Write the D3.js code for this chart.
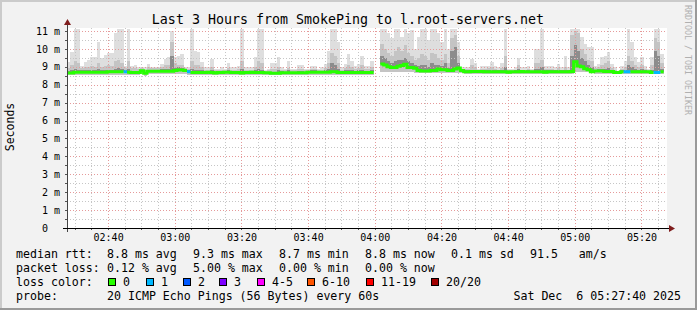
<!DOCTYPE html>
<html>
<head>
<meta charset="utf-8">
<script src="https://cdn.jsdelivr.net/npm/d3@7"></script>
<style>
  body { margin: 0; background: #f2f2f2; }
  svg { display: block; font-family: "DejaVu Sans Mono", monospace; }
  text { white-space: pre; }
</style>
</head>
<body>
<div id="chart"></div>
<script>
// one value per 60s step, starting 02:27:40, in ms (null = no data)
const median = [
  8.66, 8.66, 8.70, 8.70, 8.70, 8.70, 8.70, 8.70, 8.70, 8.70,
  8.70, 8.70, 8.72, 8.72, 8.72, 8.72, 8.72, 8.72, 8.70, 8.68,
  8.68, 8.68, 8.78, 8.64, 8.76, 8.76, 8.76, 8.76, 8.76, 8.76,
  8.76, 8.76, 8.80, 8.82, 8.82, 8.80, 8.72, 8.68, 8.68, 8.68,
  8.68, 8.68, 8.70, 8.68, 8.66, 8.68, 8.68, 8.70, 8.70, 8.68,
  8.68, 8.68, 8.66, 8.68, 8.68, 8.70, 8.68, 8.68, 8.68, 8.67,
  8.67, 8.64, 8.64, 8.64, 8.67, 8.67, 8.67, 8.67, 8.67, 8.67,
  8.67, 8.67, 8.70, 8.70, 8.70, 8.70, 8.70, 8.70, 8.70, 8.73,
  8.73, 8.68, 8.68, 8.68, 8.68, 8.68, 8.68, 8.68, 8.69, 8.69,
  8.69, 8.69, null, null, 9.16, 9.10, 9.01, 8.97, 8.97, 9.03,
  9.07, 9.14, 8.97, 8.97, 8.92, 8.79, 8.77, 8.77, 8.77, 8.79,
  8.79, 8.88, 8.84, 8.84, 8.79, 8.79, 8.88, 8.93, 8.79, 8.72,
  8.72, 8.74, 8.74, 8.74, 8.74, 8.72, 8.72, 8.72, 8.72, 8.72,
  8.72, 8.72, 8.70, 8.72, 8.72, 8.72, 8.74, 8.72, 8.72, 8.72,
  8.72, 8.72, 8.72, 8.70, 8.72, 8.72, 8.72, 8.72, 8.72, 8.72,
  8.72, 8.74, 9.29, 9.05, 9.00, 8.90, 8.84, 8.72, 8.77, 8.77,
  8.77, 8.74, 8.74, 8.74, 8.69, 8.69, 8.72, 8.72, 8.72, 8.72,
  8.72, 8.72, 8.72, 8.72, 8.72, 8.69, 8.69, 8.69, 8.72
];

// fastest ping of each step
const rttMin = [
  8.56, 8.56, 8.56, 8.56, 8.56, 8.56, 8.56, 8.56, 8.56, 8.56,
  8.56, 8.56, 8.56, 8.56, 8.56, 8.56, 8.56, 8.56, 8.56, 8.55,
  8.55, 8.55, 8.60, 8.50, 8.62, 8.62, 8.62, 8.62, 8.62, 8.62,
  8.62, 8.62, 8.62, 8.62, 8.62, 8.62, 8.57, 8.57, 8.57, 8.57,
  8.57, 8.57, 8.57, 8.57, 8.57, 8.57, 8.57, 8.57, 8.57, 8.57,
  8.57, 8.57, 8.57, 8.57, 8.57, 8.57, 8.57, 8.57, 8.57, 8.57,
  8.57, 8.55, 8.55, 8.55, 8.55, 8.55, 8.55, 8.55, 8.55, 8.55,
  8.55, 8.55, 8.55, 8.55, 8.55, 8.55, 8.55, 8.55, 8.55, 8.55,
  8.55, 8.55, 8.55, 8.55, 8.55, 8.55, 8.55, 8.55, 8.55, 8.55,
  8.55, 8.55, null, null, 8.72, 8.72, 8.72, 8.72, 8.72, 8.72,
  8.72, 8.72, 8.72, 8.72, 8.66, 8.66, 8.66, 8.66, 8.66, 8.66,
  8.66, 8.66, 8.66, 8.66, 8.66, 8.66, 8.66, 8.66, 8.66, 8.60,
  8.60, 8.60, 8.60, 8.60, 8.60, 8.60, 8.60, 8.60, 8.60, 8.60,
  8.60, 8.60, 8.60, 8.60, 8.60, 8.60, 8.60, 8.60, 8.60, 8.60,
  8.60, 8.60, 8.60, 8.60, 8.60, 8.60, 8.60, 8.60, 8.60, 8.60,
  8.60, 8.60, 8.70, 8.70, 8.70, 8.70, 8.70, 8.70, 8.60, 8.60,
  8.60, 8.60, 8.60, 8.60, 8.60, 8.60, 8.60, 8.60, 8.60, 8.60,
  8.60, 8.60, 8.60, 8.60, 8.60, 8.60, 8.60, 8.60, 8.60
];

// slowest ping of each step (outer smoke)
const rttMax = [
  9.25, 9.85, 11.1, 11.1, 9.07, 9.25, 9.37, 9.53, 9.55, 10.4,
  9.5, 9.65, 9.8, 9.8, 10.9, 11.1, 11.1, 9.07, 11.1, 9.07,
  9.12, 9.0, 9.0, 8.97, 9.16, 8.97, 8.97, 9.0, 9.16, 9.44,
  9.53, 11.0, 9.53, 9.63, 9.7, 8.97, 8.97, 11.1, 9.9, 9.81,
  9.25, 8.97, 8.97, 9.44, 8.88, 8.88, 8.97, 8.88, 9.2, 8.97,
  8.97, 9.07, 11.1, 8.97, 8.97, 9.0, 9.53, 11.1, 11.1, 8.82,
  8.88, 9.2, 9.2, 9.53, 8.97, 8.88, 9.3, 8.88, 8.88, 9.12,
  9.12, 8.88, 8.88, 9.07, 9.07, 8.88, 9.0, 9.16, 9.9, 11.1,
  11.1, 10.37, 8.97, 9.16, 9.72, 9.35, 9.07, 9.16, 9.63, 9.07,
  9.07, 9.35, null, null, 11.1, 11.1, 10.9, 10.6, 11.1, 11.1,
  10.65, 11.1, 10.9, 11.05, 10.0, 10.65, 11.1, 11.1, 10.5, 11.1,
  11.1, 10.87, 10.4, 11.1, 10.0, 11.1, 11.1, 10.4, 9.0, 8.97,
  8.97, 9.44, 9.2, 8.88, 9.07, 9.07, 9.07, 9.28, 9.07, 8.97,
  9.2, 11.1, 8.88, 8.88, 8.97, 9.5, 8.97, 8.97, 9.07, 8.88,
  10.0, 10.0, 11.1, 9.07, 9.07, 9.07, 8.97, 9.16, 8.97, 9.63,
  8.97, 11.1, 11.1, 11.1, 10.65, 10.3, 10.1, 10.1, 9.07, 9.16,
  9.53, 9.63, 9.81, 9.16, 8.97, 8.79, 9.07, 9.35, 11.1, 10.37,
  9.53, 9.25, 9.53, 9.07, 8.88, 9.53, 11.1, 11.1, 9.72
];

// upper edge of the middle smoke band
const rttHigh = [
  8.95, 9.1, 9.3, 9.2, 8.95, 9.0, 9.0, 9.05, 9.0, 9.2,
  9.0, 9.05, 9.1, 9.05, 9.3, 9.4, 9.2, 8.95, 9.3, 8.95,
  8.95, 8.9, 8.95, 8.85, 9.0, 8.95, 8.95, 8.95, 9.0, 9.1,
  9.1, 10.4, 9.2, 9.1, 9.1, 8.95, 8.9, 9.3, 9.1, 9.1,
  9.0, 8.85, 8.85, 9.0, 8.8, 8.8, 8.85, 8.8, 8.95, 8.85,
  8.85, 8.9, 9.3, 8.85, 8.85, 8.85, 9.0, 9.3, 9.2, 8.78,
  8.8, 8.9, 8.9, 9.0, 8.85, 8.8, 8.95, 8.8, 8.8, 8.9,
  8.9, 8.8, 8.82, 8.9, 8.9, 8.82, 8.85, 8.95, 9.2, 9.8,
  9.6, 9.2, 8.85, 8.95, 9.1, 9.0, 8.9, 8.95, 9.1, 8.9,
  8.9, 9.0, null, null, 10.3, 10.0, 9.8, 9.6, 9.9, 10.1,
  9.9, 10.2, 9.8, 9.6, 9.4, 9.5, 9.7, 9.6, 9.4, 9.8,
  9.7, 9.5, 9.4, 9.7, 9.2, 10.6, 10.8, 9.6, 8.9, 8.88,
  8.88, 9.1, 9.0, 8.85, 8.9, 8.9, 8.95, 9.0, 8.9, 8.85,
  8.95, 9.6, 8.82, 8.82, 8.85, 9.1, 8.85, 8.85, 8.9, 8.82,
  9.2, 9.2, 9.4, 8.9, 8.9, 8.9, 8.85, 8.95, 8.85, 9.0,
  8.85, 10.8, 11.0, 10.9, 10.0, 9.7, 9.4, 9.3, 8.95, 9.0,
  9.1, 9.2, 9.3, 8.95, 8.85, 8.78, 8.9, 9.0, 9.6, 9.3,
  9.1, 9.0, 9.1, 8.9, 8.82, 9.1, 10.6, 10.4, 9.2
];

// upper edge of the dark smoke band (just above the median)
const rttMid = [
  8.78, 8.8, 8.9, 8.85, 8.8, 8.82, 8.82, 8.85, 8.82, 8.9,
  8.82, 8.82, 8.85, 8.85, 8.9, 8.95, 8.9, 8.82, 8.9, 8.78,
  8.78, 8.78, 8.85, 8.74, 8.85, 8.84, 8.84, 8.84, 8.86, 8.9,
  8.9, 9.6, 8.95, 8.97, 8.95, 8.88, 8.8, 8.9, 8.82, 8.82,
  8.8, 8.76, 8.78, 8.8, 8.74, 8.74, 8.76, 8.76, 8.8, 8.76,
  8.76, 8.78, 8.9, 8.76, 8.76, 8.78, 8.8, 8.9, 8.85, 8.73,
  8.74, 8.74, 8.74, 8.8, 8.75, 8.74, 8.8, 8.74, 8.74, 8.77,
  8.77, 8.74, 8.77, 8.8, 8.8, 8.77, 8.78, 8.8, 8.9, 9.2,
  9.1, 8.9, 8.76, 8.8, 8.85, 8.8, 8.77, 8.8, 8.85, 8.78,
  8.78, 8.82, null, null, 9.6, 9.5, 9.3, 9.2, 9.3, 9.4,
  9.4, 9.5, 9.3, 9.2, 9.1, 9.05, 9.1, 9.1, 9.0, 9.2,
  9.1, 9.1, 9.05, 9.2, 8.95, 9.9, 10.1, 9.2, 8.85, 8.8,
  8.8, 8.85, 8.85, 8.8, 8.82, 8.8, 8.82, 8.85, 8.8, 8.8,
  8.82, 9.0, 8.77, 8.78, 8.8, 8.9, 8.8, 8.8, 8.82, 8.78,
  8.9, 8.9, 9.0, 8.8, 8.82, 8.82, 8.8, 8.82, 8.8, 8.85,
  8.8, 9.6, 10.2, 9.9, 9.5, 9.3, 9.1, 9.0, 8.85, 8.88,
  8.9, 8.9, 8.95, 8.82, 8.76, 8.74, 8.8, 8.85, 9.1, 9.0,
  8.9, 8.85, 8.9, 8.8, 8.78, 8.85, 9.9, 9.6, 8.9
];

// [step, lost pings of 20]
const lossEvents = [[17, 1], [36, 1], [167, 1], [168, 1], [176, 1], [177, 1]];

const yTicks = [0, 1, 2, 3, 4, 5, 6, 7, 8, 9, 10, 11];
const lossLabels = ['0', '1', '2', '3', '4-5', '6-10', '11-19', '20/20'];
const lossColors = ['#26ff00', '#00b8ff', '#0059ff', '#7e00ff', '#ff00ff', '#ff5500', '#ff0000', '#a10000'];
const rttStats = ['8.8 ms avg', '9.3 ms max', '8.7 ms min', '8.8 ms now', '0.1 ms sd', '91.5   am/s'];
const lossStats = ['0.12 % avg', '5.00 % max', '0.00 % min', '0.00 % now'];

const W = 697, H = 310;
const plot = { left: 67, right: 667, top: 28, bottom: 228 };
const yMax = 11.17;
const tStart = new Date(2025, 11, 6, 2, 27, 40);
const tEnd = new Date(2025, 11, 6, 5, 27, 40);

const x = d3.scaleTime().domain([tStart, tEnd]).range([plot.left, plot.right]);
const y = d3.scaleLinear().domain([0, yMax]).range([plot.bottom, plot.top]);
const px = v => Math.round(v) + 0.5;

const loss = median.map(() => 0);
lossEvents.forEach(([i, n]) => { loss[i] = n; });
const lossClass = n => n === 0 ? 0 : n === 1 ? 1 : n === 2 ? 2 : n === 3 ? 3 : n <= 5 ? 4 : n <= 10 ? 5 : n < 20 ? 6 : 7;

// each step becomes two points (start / end) so paths come out as steps
const pts = [];
median.forEach((m, i) => {
  pts.push({ i, t: d3.timeMinute.offset(tStart, i) });
  pts.push({ i, t: d3.timeMinute.offset(tStart, i + 1) });
});

const svg = d3.select('#chart').append('svg')
  .attr('width', W)
  .attr('height', H);

// background + 3d border
svg.append('rect').attr('width', W).attr('height', H).attr('fill', '#f2f2f2');
svg.append('path').attr('d', `M0,0H${W}V2H2V${H}H0Z`).attr('fill', '#cbcbcb');
svg.append('path').attr('d', `M${W},0V${H}H0V${H - 2}H${W - 2}V0Z`).attr('fill', '#9a9a9a');

svg.append('rect')
  .attr('x', plot.left).attr('y', plot.top)
  .attr('width', plot.right - plot.left).attr('height', plot.bottom - plot.top)
  .attr('fill', '#fff');

// smoke
const bands = [
  { lo: rttMin, hi: rttMax, color: '#dedede' },
  { lo: rttMin, hi: rttHigh, color: '#c4c4c4' },
  { lo: median, hi: rttMid, color: '#8c8c8c' }
];
bands.forEach(b => {
  const area = d3.area()
    .defined(p => b.hi[p.i] != null)
    .x(p => x(p.t))
    .y0(p => y(b.lo[p.i]))
    .y1(p => y(b.hi[p.i]));
  svg.append('path')
    .attr('d', area(pts))
    .attr('fill', b.color)
    .attr('shape-rendering', 'crispEdges');
});

// grid
const minorTimes = d3.timeMinute.every(5).range(tStart, tEnd).filter(t => t.getMinutes() % 20);
const majorTimes = d3.timeMinute.every(20).range(tStart, tEnd);
const minorVals = d3.range(0.5, yMax, 1);
const majorVals = yTicks.filter(v => v > 0);

const grid = svg.append('g').attr('shape-rendering', 'crispEdges').attr('stroke-dasharray', '1,2');
grid.selectAll('.vmin').data(minorTimes).join('line')
  .attr('x1', d => px(x(d))).attr('x2', d => px(x(d)))
  .attr('y1', plot.top).attr('y2', plot.bottom)
  .attr('stroke', '#c6c6c6');
grid.selectAll('.hmin').data(minorVals).join('line')
  .attr('x1', plot.left).attr('x2', plot.right)
  .attr('y1', d => px(y(d))).attr('y2', d => px(y(d)))
  .attr('stroke', '#c6c6c6');
grid.selectAll('.vmaj').data(majorTimes).join('line')
  .attr('x1', d => px(x(d))).attr('x2', d => px(x(d)))
  .attr('y1', plot.top).attr('y2', plot.bottom)
  .attr('stroke', '#e59a9a');
grid.selectAll('.hmaj').data(majorVals).join('line')
  .attr('x1', plot.left).attr('x2', plot.right)
  .attr('y1', d => px(y(d))).attr('y2', d => px(y(d)))
  .attr('stroke', '#e59a9a');

// median line, coloured by loss
lossColors.forEach((c, k) => {
  const line = d3.line()
    .defined(p => median[p.i] != null && lossClass(loss[p.i]) === k)
    .x(p => x(p.t))
    .y(p => y(median[p.i]));
  svg.append('path')
    .attr('d', line(pts))
    .attr('fill', 'none')
    .attr('stroke', c)
    .attr('stroke-width', 3);
});

// axes
const ax = svg.append('g').attr('shape-rendering', 'crispEdges');
ax.selectAll('.yt').data(minorVals.concat(majorVals)).join('line')
  .attr('x1', plot.left - 2).attr('x2', plot.left)
  .attr('y1', d => px(y(d))).attr('y2', d => px(y(d)))
  .attr('stroke', '#555');
ax.selectAll('.xt').data(minorTimes.concat(majorTimes)).join('line')
  .attr('x1', d => px(x(d))).attr('x2', d => px(x(d)))
  .attr('y1', plot.bottom).attr('y2', plot.bottom + 2)
  .attr('stroke', '#555');
ax.append('line')
  .attr('x1', px(plot.left)).attr('x2', px(plot.left))
  .attr('y1', plot.bottom + 4).attr('y2', plot.top - 6)
  .attr('stroke', '#444');
ax.append('line')
  .attr('x1', plot.left - 4).attr('x2', plot.right + 4)
  .attr('y1', px(plot.bottom)).attr('y2', px(plot.bottom))
  .attr('stroke', '#000');

svg.append('path')
  .attr('d', `M${plot.left - 3},${plot.top - 3}L${plot.left + 0.5},${plot.top - 9}L${plot.left + 4},${plot.top - 3}Z`)
  .attr('fill', '#7f1d1d');
svg.append('path')
  .attr('d', `M${plot.right + 2},${plot.bottom - 3}L${plot.right + 8},${plot.bottom + 0.5}L${plot.right + 2},${plot.bottom + 4}Z`)
  .attr('fill', '#7f1d1d');

// tick labels
svg.selectAll('.ylab').data(yTicks).join('text')
  .attr('x', 60)
  .attr('y', d => y(d) + 3.6)
  .attr('text-anchor', 'end')
  .attr('font-size', '10px')
  .attr('xml:space', 'preserve')
  .text(d => d === 0 ? '0  ' : `${d} m`);

svg.selectAll('.xlab').data(majorTimes).join('text')
  .attr('x', d => x(d) + 0.5)
  .attr('y', 241)
  .attr('text-anchor', 'middle')
  .attr('font-size', '10px')
  .text(d3.timeFormat('%H:%M'));

// title and side texts
svg.append('text')
  .attr('x', 348).attr('y', 24)
  .attr('text-anchor', 'middle')
  .attr('font-size', '13.3px')
  .text('Last 3 Hours from SmokePing to l.root-servers.net');

svg.append('text')
  .attr('transform', 'translate(14,127) rotate(-90)')
  .attr('text-anchor', 'middle')
  .attr('font-size', '11.5px')
  .text('Seconds');

svg.append('text')
  .attr('transform', 'translate(685,5) rotate(90)')
  .attr('font-size', '8.3px')
  .attr('fill', '#b0b0b0')
  .text('RRDTOOL / TOBI OETIKER');

// legend
const leg = svg.append('g').attr('font-size', '11.6px').attr('xml:space', 'preserve');
const colX = [107, 193, 279, 365, 451, 530];
const rowY = [258, 272, 286, 300];

leg.append('text').attr('x', 16).attr('y', rowY[0]).text('median rtt:');
rttStats.forEach((s, k) => leg.append('text').attr('x', colX[k]).attr('y', rowY[0]).text(s));

leg.append('text').attr('x', 16).attr('y', rowY[1]).text('packet loss:');
lossStats.forEach((s, k) => leg.append('text').attr('x', colX[k]).attr('y', rowY[1]).text(s));

leg.append('text').attr('x', 16).attr('y', rowY[2]).text('loss color:');
const boxX = [108, 146, 183, 219, 257, 307, 366, 431];
lossLabels.forEach((s, k) => {
  leg.append('rect')
    .attr('x', boxX[k] + 0.5).attr('y', rowY[2] - 7.5)
    .attr('width', 7).attr('height', 7)
    .attr('fill', lossColors[k]).attr('stroke', '#000');
  leg.append('text').attr('x', boxX[k] + 15).attr('y', rowY[2]).text(s);
});

leg.append('text').attr('x', 16).attr('y', rowY[3]).text('probe:');
leg.append('text').attr('x', 107).attr('y', rowY[3]).text('20 ICMP Echo Pings (56 Bytes) every 60s');
leg.append('text').attr('x', 681).attr('y', rowY[3]).attr('text-anchor', 'end')
  .text(d3.timeFormat('%a %b %e %H:%M:%S %Y')(tEnd));
</script>
</body>
</html>
